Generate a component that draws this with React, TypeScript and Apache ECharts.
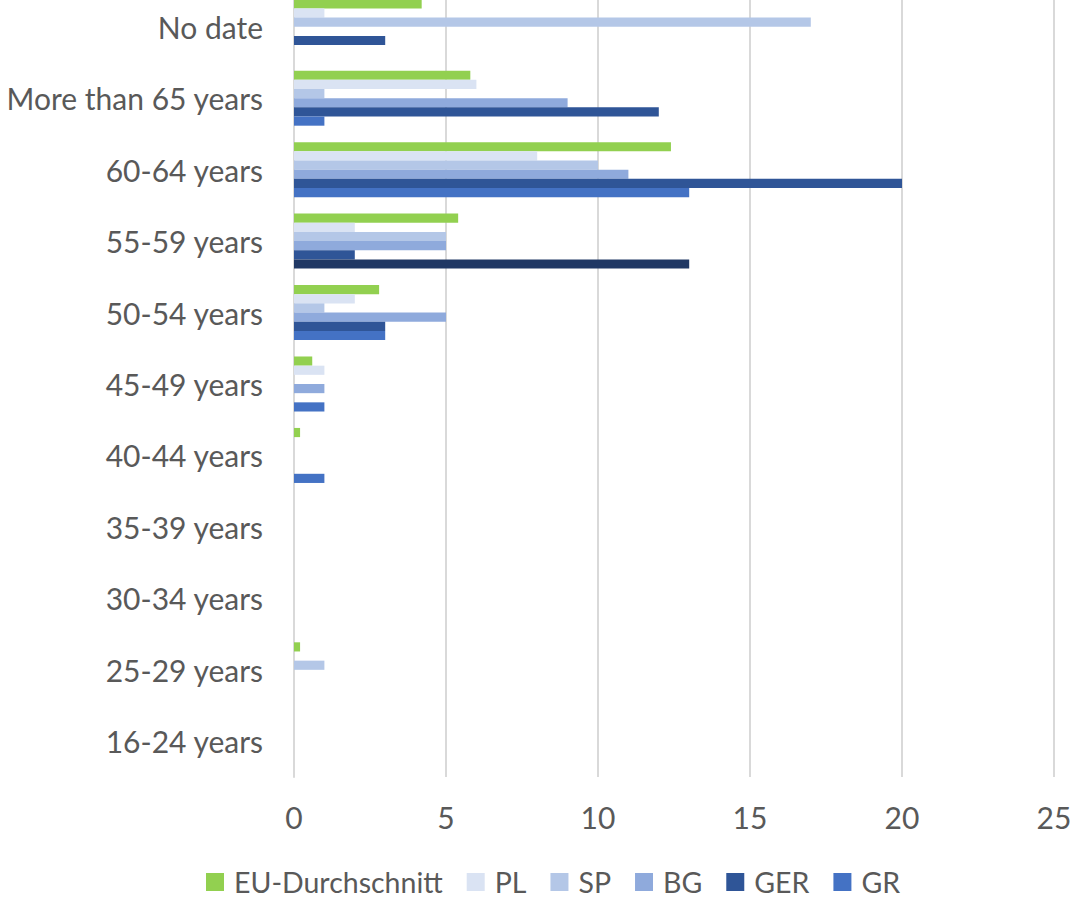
import React, { useEffect, useRef } from "react";
import * as echarts from "echarts";

// Age groups, bottom to top on the category axis
const ageGroups = [
  "16-24 years",
  "25-29 years",
  "30-34 years",
  "35-39 years",
  "40-44 years",
  "45-49 years",
  "50-54 years",
  "55-59 years",
  "60-64 years",
  "More than 65 years",
  "No date",
];

const seriesNames = ["EU-Durchschnitt", "PL", "SP", "BG", "GER", "GR"];

const euAverage = [0, 0.2, 0, 0, 0.2, 0.6, 2.8, 5.4, 12.4, 5.8, 4.2];
const plValues = [0, 0, 0, 0, 0, 1, 2, 2, 8, 6, 1];
const spValues = [0, 1, 0, 0, 0, 0, 1, 5, 10, 1, 17];
const bgValues = [0, 0, 0, 0, 0, 1, 5, 5, 11, 9, 0];
const gerValues = [0, 0, 0, 0, 0, 0, 3, 2, 20, 12, 3];
const grValues = [0, 0, 0, 0, 1, 1, 3, 13, 13, 1, 0];

const xTicks = [0, 5, 10, 15, 20, 25];

const seriesColors = ["#92D050", "#DAE3F3", "#B4C7E7", "#8FAADC", "#2F5597", "#4472C4"];
// One GR bar (55-59 years) is drawn in a darker navy
const grHighlight = { group: "55-59 years", color: "#203864" };

const FONT = "Lato, 'Open Sans', sans-serif";
const TEXT = "#595959";

// The chart box starts a little above the page so the top group is clipped
const SHIFT = 9;

export default function App() {
  const ref = useRef<HTMLDivElement>(null);

  useEffect(() => {
    if (!ref.current) return;
    const chart = echarts.init(ref.current, undefined, { renderer: "svg" });

    const allValues = [euAverage, plValues, spValues, bgValues, gerValues, grValues];

    const series = seriesNames.map((name, i) => ({
      name,
      type: "bar" as const,
      barGap: "0%",
      barCategoryGap: "23%",
      itemStyle: { color: seriesColors[i] },
      data: allValues[i].map((v, k) =>
        name === "GR" && ageGroups[k] === grHighlight.group
          ? { value: v, itemStyle: { color: grHighlight.color } }
          : v
      ),
    }));

    chart.setOption({
      animation: false,
      backgroundColor: "#ffffff",
      textStyle: { fontFamily: FONT },
      grid: { left: 294, right: 23, top: 0, bottom: 121, containLabel: false },
      legend: {
        data: seriesNames,
        left: 206,
        top: 866 + SHIFT,
        padding: 0,
        itemWidth: 18,
        itemHeight: 18,
        itemGap: 24,
        icon: "rect",
        textStyle: { color: TEXT, fontSize: 28.5, fontFamily: FONT, padding: [0, 0, 0, 5], lineHeight: 32 },
      },
      xAxis: {
        type: "value",
        min: xTicks[0],
        max: xTicks[xTicks.length - 1],
        interval: xTicks[1] - xTicks[0],
        axisLine: { show: false },
        axisTick: { show: false },
        splitLine: { show: true, lineStyle: { color: "#D9D9D9", width: 2 } },
        axisLabel: { color: TEXT, fontSize: 30, fontFamily: FONT, margin: 25 },
      },
      yAxis: {
        type: "category",
        data: ageGroups,
        axisLine: { show: true, lineStyle: { color: "#D9D9D9", width: 2 } },
        axisTick: { show: false },
        axisLabel: { color: TEXT, fontSize: 30, fontFamily: FONT, margin: 31 },
      },
      series,
    });

    return () => chart.dispose();
  }, []);

  return (
    <div
      ref={ref}
      style={{
        position: "fixed",
        left: 0,
        top: -SHIFT,
        width: 1077,
        height: 898 + SHIFT,
        background: "#fff",
      }}
    />
  );
}
